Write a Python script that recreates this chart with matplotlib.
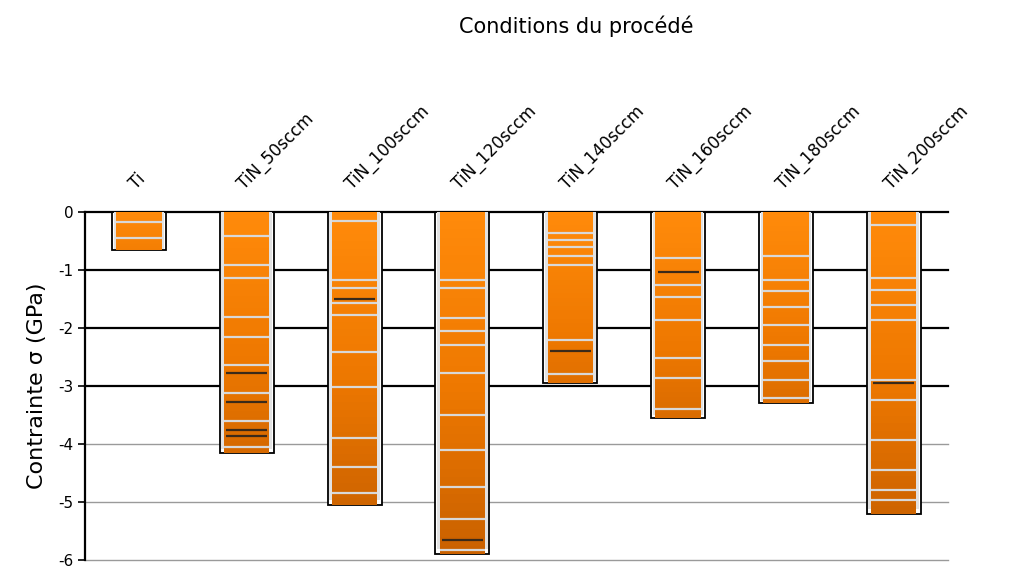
import numpy as np
import matplotlib
matplotlib.use("Agg")
import matplotlib.pyplot as plt
from matplotlib.colors import LinearSegmentedColormap

conditions = ["Ti", "TiN_50sccm", "TiN_100sccm", "TiN_120sccm", "TiN_140sccm",
              "TiN_160sccm", "TiN_180sccm", "TiN_200sccm"]

# total compressive stress per condition (GPa)
stress_total = [-0.65, -4.15, -5.05, -5.9, -2.95, -3.55, -3.3, -5.2]

# interfaces between deposited layers (GPa), light lines
layer_lines = [
    [-0.17, -0.45],
    [-0.41, -0.91, -1.14, -1.81, -2.15, -2.64, -3.12, -3.6, -4.05],
    [-0.15, -1.17, -1.31, -1.57, -1.78, -2.41, -3.02, -3.9, -4.4, -4.85],
    [-1.17, -1.31, -1.83, -2.06, -2.29, -2.78, -3.5, -4.1, -4.74, -5.3, -5.83],
    [-0.36, -0.48, -0.6, -0.76, -0.91, -2.2, -2.8],
    [-0.79, -1.26, -1.47, -1.86, -2.52, -2.86, -3.4],
    [-0.76, -1.17, -1.36, -1.64, -1.95, -2.3, -2.57, -2.9, -3.2],
    [-0.22, -1.14, -1.34, -1.6, -1.86, -2.9, -3.24, -3.93, -4.45, -4.79, -4.97],
]

# darker interfaces
dark_lines = [
    [],
    [-2.78, -3.27, -3.76, -3.86],
    [-1.5],
    [-5.66],
    [-2.4],
    [-1.03],
    [],
    [-2.95],
]

orange = LinearSegmentedColormap.from_list("orange", ["#FF8A0A", "#EE7800", "#C86000"])

fig = plt.figure(figsize=(10.29, 5.74), dpi=100)
ax = fig.add_axes([0.0826, 0.0244, 0.8384, 0.6063])

x = np.arange(len(conditions))
ax.set_xlim(-0.5, len(conditions) - 0.5)
ax.set_ylim(-6, 0)

# grid
for v in [0, -1, -2, -3]:
    ax.axhline(v, color="black", lw=1.6, zorder=0, clip_on=False)
for v in [-4, -5, -6]:
    ax.axhline(v, color="#9A9A9A", lw=1.0, zorder=0, clip_on=False)

for i, total in enumerate(stress_total):
    # outer frame of the column
    ax.bar(x[i], total, width=0.5, color="white", edgecolor="black", lw=1.3, zorder=2)
    ax.bar(x[i], total * 0.985, width=0.47, color="#E2E2E2", edgecolor="none", zorder=3)
    # layers
    n = 40
    depths = np.linspace(0, total, n + 1)
    for k in range(n):
        ax.bar(x[i], depths[k + 1] - depths[k], bottom=depths[k], width=0.42,
               color=orange(k / n * min(1, abs(total) / 5.9) ** 0.5), edgecolor="none", zorder=4)
    for b in layer_lines[i]:
        ax.hlines(b, x[i] - 0.21, x[i] + 0.21, color="#D8D8D8", lw=1.6, zorder=5)
    for b in dark_lines[i]:
        ax.hlines(b, x[i] - 0.19, x[i] + 0.19, color="#3A2A1A", lw=1.6, zorder=5)

ax.xaxis.tick_top()
ax.set_xticks(x)
ax.set_xticklabels(conditions, rotation=45, ha="left", va="bottom",
                   rotation_mode="anchor", fontsize=12)
ax.tick_params(axis="x", length=0, pad=14)
ax.set_yticks([0, -1, -2, -3, -4, -5, -6])
ax.set_yticklabels(["0", "-1", "-2", "-3", "-4", "-5", "-6"], fontsize=11)
ax.tick_params(axis="y", length=5, width=1.2, direction="out")

for s in ["top", "right", "bottom"]:
    ax.spines[s].set_visible(False)
ax.spines["left"].set_linewidth(1.6)

ax.set_ylabel("Contrainte σ (GPa)", fontsize=16, labelpad=8)
fig.text(0.56, 0.955, "Conditions du procédé", ha="center", va="center", fontsize=15)

fig.savefig("out.png", dpi=100)
